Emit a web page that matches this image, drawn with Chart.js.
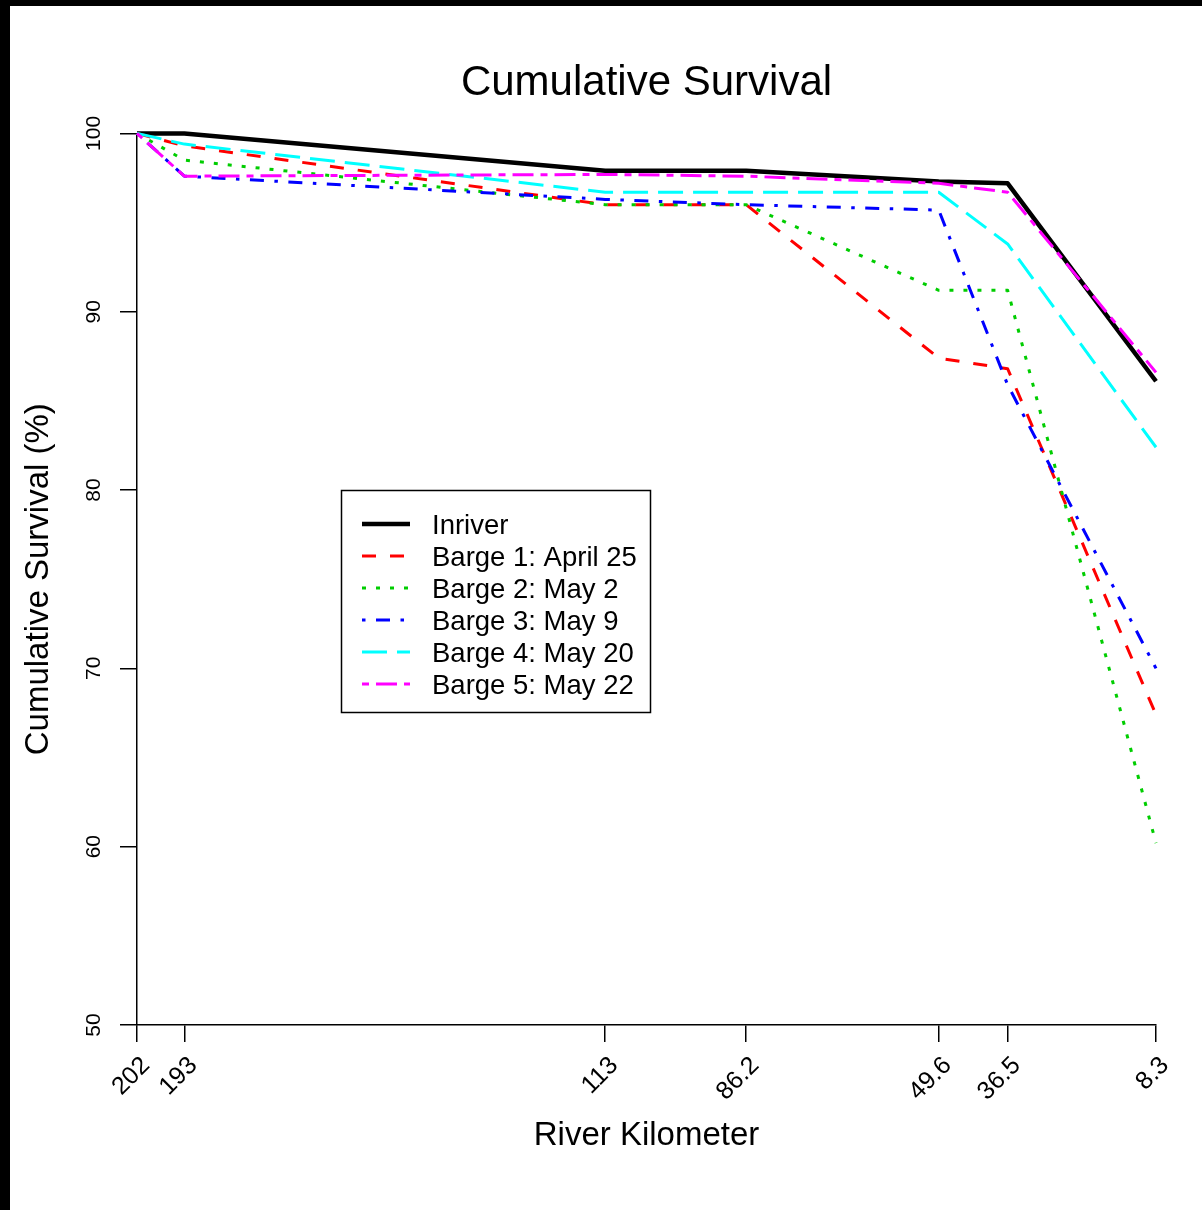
<!DOCTYPE html>
<html lang="en">
<head>
  <meta charset="UTF-8">
  <title>Cumulative Survival</title>
  <script src="https://cdn.jsdelivr.net/npm/chart.js"></script>
  <style>
    html, body {
      margin: 0;
      padding: 0;
      background: #fff;
    }
    #wrap {
      width: 1202px;
      height: 1210px;
    }
  </style>
</head>
<body>
  <div id="wrap">
    <canvas id="grafico" width="1202" height="1210"></canvas>
  </div>

  <script>
    // river kilometer stations (x axis)
    const kmTicks = [202, 193, 113, 86.2, 49.6, 36.5, 8.3];
    const kmLabels = ['202', '193', '113', '86.2', '49.6', '36.5', '8.3'];
    const yTicks = [50, 60, 70, 80, 90, 100];

    const seriesNames = ['Inriver', 'Barge 1: April 25', 'Barge 2: May 2', 'Barge 3: May 9', 'Barge 4: May 20', 'Barge 5: May 22'];
    const inriver = [100, 100, 97.9, 97.9, 97.3, 97.2, 86.1];
    const barge1 = [100, 99.3, 96.0, 96.0, 87.4, 86.8, 67.4];
    const barge2 = [100, 98.5, 96.0, 96.0, 91.2, 91.2, 60.2];
    const barge3 = [100, 97.6, 96.3, 96.0, 95.7, 85.9, 70.0];
    const barge4 = [100, 99.4, 96.7, 96.7, 96.7, 93.8, 82.4];
    const barge5 = [100, 97.6, 97.7, 97.6, 97.2, 96.7, 86.6];

    Chart.defaults.font.family = '"Liberation Sans", Arial, sans-serif';
    Chart.defaults.color = '#000';

    const pontos = vals => vals.map((v, i) => ({ x: kmTicks[i], y: v }));

    const linha = (label, vals, color, width, dash, order) => ({
      label: label,
      data: pontos(vals),
      borderColor: color,
      backgroundColor: color,
      borderWidth: width,
      borderDash: dash,
      borderCapStyle: 'butt',
      borderJoinStyle: 'round',
      pointRadius: 0,
      tension: 0,
      fill: false,
      clip: false,
      order: order
    });

    // black border strips around the picture + legend box
    const extras = {
      id: 'extras',
      beforeDraw(chart) {
        const ctx = chart.ctx;
        ctx.save();
        ctx.fillStyle = '#fff';
        ctx.fillRect(0, 0, chart.width, chart.height);
        ctx.restore();
      },
      afterDraw(chart) {
        const ctx = chart.ctx;
        ctx.save();
        ctx.fillStyle = '#000';
        ctx.fillRect(0, 0, chart.width, 6);
        ctx.fillRect(0, 0, 10, chart.height);

        ctx.strokeStyle = '#000';
        ctx.lineWidth = 1.5;
        ctx.strokeRect(341.5, 490.5, 309, 222);
        ctx.font = '27.5px "Liberation Sans", Arial, sans-serif';
        ctx.textBaseline = 'middle';
        chart.data.datasets.forEach((ds, i) => {
          const y = 524 + i * 32;
          ctx.setLineDash(ds.borderDash);
          ctx.lineCap = 'butt';
          ctx.lineWidth = ds.borderWidth;
          ctx.strokeStyle = ds.borderColor;
          ctx.beginPath();
          ctx.moveTo(362, y);
          ctx.lineTo(410, y);
          ctx.stroke();
          ctx.setLineDash([]);
          ctx.fillStyle = '#000';
          ctx.fillText(ds.label, 432, y + 2);
        });
        ctx.restore();
      }
    };

    new Chart(document.getElementById('grafico').getContext('2d'), {
      type: 'line',
      data: {
        datasets: [
          linha(seriesNames[0], inriver, '#000000', 4.5, [], 6),
          linha(seriesNames[1], barge1, '#ff0000', 3, [14, 14], 5),
          linha(seriesNames[2], barge2, '#00cd00', 3, [4, 10], 4),
          linha(seriesNames[3], barge3, '#0000ff', 3, [3.5, 10.5, 14, 10.5], 3),
          linha(seriesNames[4], barge4, '#00ffff', 3, [25, 10], 2),
          linha(seriesNames[5], barge5, '#ff00ff', 3, [7, 7, 21, 7], 1)
        ]
      },
      options: {
        responsive: false,
        animation: false,
        layout: { padding: { top: 0, left: 0, right: 46, bottom: 0 } },
        plugins: {
          legend: { display: false },
          tooltip: { enabled: false },
          title: {
            display: true,
            fullSize: false,
            text: 'Cumulative Survival',
            color: '#000',
            font: { size: 42, weight: 'normal' },
            padding: { top: 58, bottom: 25 }
          }
        },
        scales: {
          x: {
            type: 'linear',
            reverse: true,
            min: 8.3,
            max: 202,
            afterBuildTicks: scale => { scale.ticks = kmTicks.map(v => ({ value: v })); },
            afterFit: scale => { scale.height = 185; scale.paddingLeft = 0; scale.paddingRight = 0; },
            grid: { drawOnChartArea: false, drawTicks: true, tickLength: 17, color: '#000', lineWidth: 1.5 },
            border: { color: '#000', width: 1.5 },
            ticks: {
              autoSkip: false,
              minRotation: 45,
              maxRotation: 45,
              padding: 9,
              labelOffset: 9,
              font: { size: 25 },
              callback: (v, i) => kmLabels[i]
            },
            title: {
              display: true,
              text: 'River Kilometer',
              font: { size: 33 },
              padding: { top: 0, bottom: 54 }
            }
          },
          y: {
            min: 50,
            max: 100,
            afterBuildTicks: scale => { scale.ticks = yTicks.map(v => ({ value: v })); },
            afterFit: scale => { scale.width = 137; },
            grid: { drawOnChartArea: false, drawTicks: true, tickLength: 17, color: '#000', lineWidth: 1.5 },
            border: { color: '#000', width: 1.5 },
            ticks: {
              minRotation: 90,
              maxRotation: 90,
              crossAlign: 'center',
              padding: 8,
              font: { size: 21 }
            },
            title: {
              display: true,
              text: 'Cumulative Survival (%)',
              font: { size: 33 },
              padding: { top: 19, bottom: 0 }
            }
          }
        }
      },
      plugins: [extras]
    });
  </script>
</body>
</html>
